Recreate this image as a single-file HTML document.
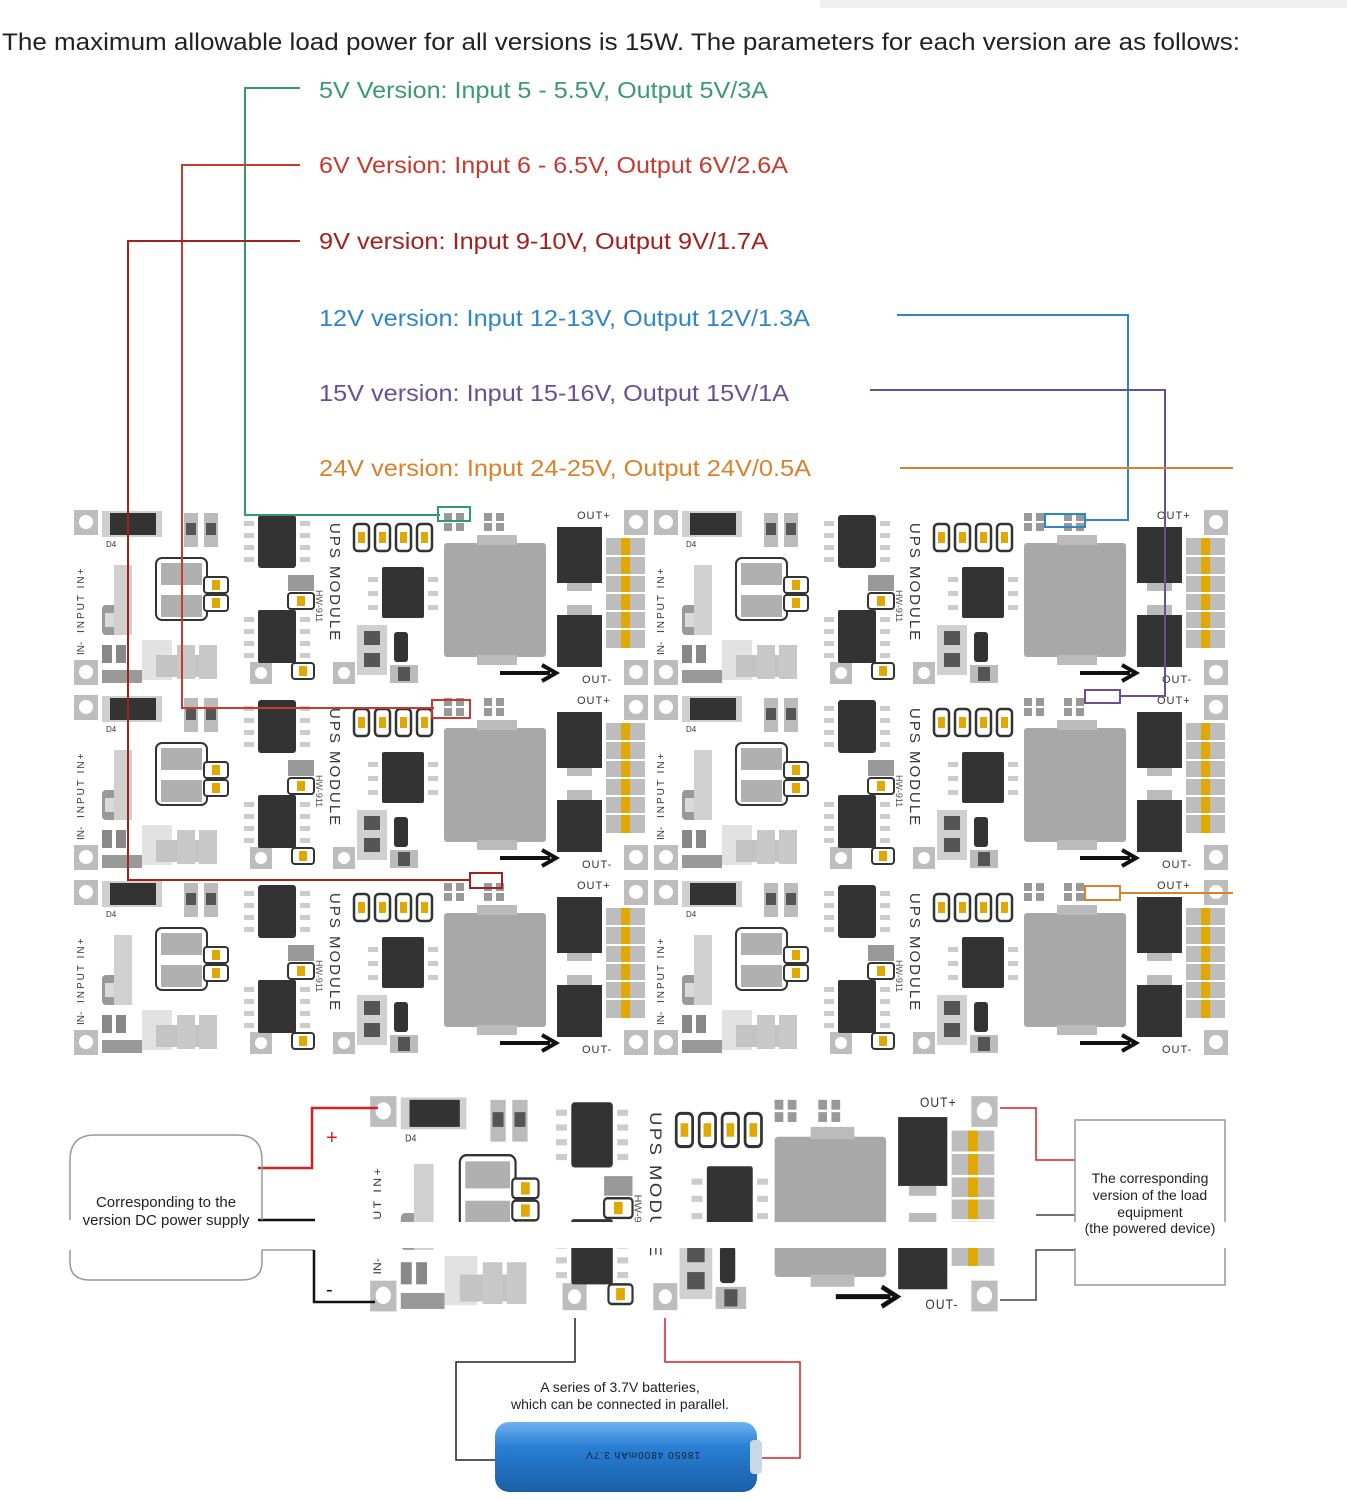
<!DOCTYPE html>
<html><head><meta charset="utf-8"><style>
html,body{margin:0;padding:0;background:#fff;}
svg{display:block;font-family:"Liberation Sans",sans-serif;}
</style></head><body>
<svg width="1347" height="1500" viewBox="0 0 1347 1500" xmlns="http://www.w3.org/2000/svg">
<defs>
<linearGradient id="bat" x1="0" y1="0" x2="0" y2="1">
<stop offset="0" stop-color="#6fb3f0"/><stop offset="0.35" stop-color="#2a7fd4"/><stop offset="1" stop-color="#1a5fa8"/>
</linearGradient>
<g id="board">
<rect x="0" y="0" width="578" height="183" fill="#fff"/>
<!-- pads -->
<rect x="2" y="5" width="24" height="25" fill="#bdbdbd"/><circle cx="14" cy="17" r="7" fill="#fff"/>
<rect x="2" y="155" width="24" height="25" fill="#bdbdbd"/><circle cx="14" cy="167" r="7" fill="#fff"/>
<rect x="552" y="5" width="24" height="25" fill="#bdbdbd"/><circle cx="564" cy="17" r="7" fill="#fff"/>
<rect x="552" y="155" width="24" height="25" fill="#bdbdbd"/><circle cx="564" cy="167" r="7" fill="#fff"/>
<rect x="178" y="157" width="22" height="22" fill="#bdbdbd"/><circle cx="189" cy="168" r="6" fill="#fff"/>
<rect x="261" y="157" width="22" height="22" fill="#bdbdbd"/><circle cx="272" cy="168" r="6" fill="#fff"/>
<!-- D4 -->
<rect x="30" y="6" width="60" height="26" fill="#cfcfcf"/><rect x="38" y="8" width="46" height="22" fill="#333"/>
<text x="34" y="42" font-size="8" fill="#333">D4</text>
<!-- resistors -->
<rect x="112" y="8" width="14" height="34" fill="#bbb"/><rect x="114" y="18" width="10" height="12" fill="#555"/>
<rect x="132" y="8" width="14" height="34" fill="#bbb"/><rect x="134" y="18" width="10" height="12" fill="#555"/>
<!-- input text -->
<text transform="translate(12,128) rotate(-90)" font-size="10" fill="#333" letter-spacing="2">INPUT  IN+</text>
<text transform="translate(12,150) rotate(-90)" font-size="10" fill="#333">IN-</text>
<!-- C1 -->
<rect x="30" y="100" width="16" height="30" rx="4" fill="#999"/><rect x="33" y="108" width="10" height="14" fill="#d9d9d9"/>
<rect x="42" y="60" width="18" height="70" fill="#d0d0d0"/>
<!-- L30 -->
<rect x="84" y="53" width="51" height="62" rx="6" fill="#fff" stroke="#333" stroke-width="2"/>
<rect x="89" y="58" width="41" height="22" fill="#b0b0b0"/><rect x="89" y="90" width="41" height="22" fill="#b0b0b0"/>
<!-- U4 / R4 R5 -->
<rect x="30" y="140" width="10" height="18" fill="#888"/><rect x="44" y="140" width="10" height="18" fill="#888"/>
<rect x="70" y="135" width="30" height="40" fill="#e2e2e2"/>
<rect x="84" y="150" width="28" height="22" fill="#c4c4c4"/><rect x="118" y="150" width="24" height="22" fill="#c4c4c4"/>
<rect x="30" y="165" width="40" height="13" fill="#999"/>
<!-- C10 C11 -->
<rect x="132" y="72" width="24" height="16" rx="3" fill="#fff" stroke="#333" stroke-width="2"/><rect x="140" y="75" width="8" height="10" fill="#e0a800"/>
<rect x="132" y="90" width="24" height="16" rx="3" fill="#fff" stroke="#333" stroke-width="2"/><rect x="140" y="93" width="8" height="10" fill="#e0a800"/>
<!-- U1 -->
<rect x="172" y="16" width="10" height="5" fill="#ccc"/><rect x="172" y="28" width="10" height="5" fill="#ccc"/><rect x="172" y="40" width="10" height="5" fill="#ccc"/><rect x="172" y="52" width="10" height="5" fill="#ccc"/>
<rect x="228" y="16" width="10" height="5" fill="#ccc"/><rect x="228" y="28" width="10" height="5" fill="#ccc"/><rect x="228" y="40" width="10" height="5" fill="#ccc"/><rect x="228" y="52" width="10" height="5" fill="#ccc"/>
<rect x="186" y="10" width="38" height="53" rx="3" fill="#333"/>
<!-- C8 / R8 -->
<rect x="216" y="70" width="26" height="16" fill="#999"/>
<rect x="216" y="88" width="26" height="16" rx="3" fill="#fff" stroke="#333" stroke-width="2"/><rect x="225" y="91" width="8" height="10" fill="#e0a800"/>
<!-- U3 -->
<rect x="186" y="105" width="38" height="53" rx="2" fill="#333"/>
<rect x="172" y="112" width="10" height="5" fill="#ccc"/><rect x="172" y="124" width="10" height="5" fill="#ccc"/><rect x="172" y="136" width="10" height="5" fill="#ccc"/><rect x="172" y="148" width="10" height="5" fill="#ccc"/>
<rect x="228" y="112" width="10" height="5" fill="#ccc"/><rect x="228" y="124" width="10" height="5" fill="#ccc"/><rect x="228" y="136" width="10" height="5" fill="#ccc"/><rect x="228" y="148" width="10" height="5" fill="#ccc"/>
<!-- C2 -->
<rect x="220" y="158" width="22" height="16" rx="3" fill="#fff" stroke="#333" stroke-width="2"/><rect x="227" y="161" width="8" height="10" fill="#e0a800"/>
<!-- UPS MODULE -->
<text transform="translate(258,18) rotate(90)" font-size="15" fill="#333" letter-spacing="2">UPS  MODULE</text>
<text transform="translate(244,85) rotate(90)" font-size="9" fill="#555">HW-911</text>
<!-- C12-14 -->
<rect x="282" y="19" width="15" height="27" rx="4" fill="#fff" stroke="#333" stroke-width="2.5"/><rect x="286" y="27" width="7" height="11" fill="#e0a800"/>
<rect x="303" y="19" width="15" height="27" rx="4" fill="#fff" stroke="#333" stroke-width="2.5"/><rect x="307" y="27" width="7" height="11" fill="#e0a800"/>
<rect x="324" y="19" width="15" height="27" rx="4" fill="#fff" stroke="#333" stroke-width="2.5"/><rect x="328" y="27" width="7" height="11" fill="#e0a800"/>
<rect x="345" y="19" width="15" height="27" rx="4" fill="#fff" stroke="#333" stroke-width="2.5"/><rect x="349" y="27" width="7" height="11" fill="#e0a800"/>
<rect x="365" y="5" width="95" height="20" fill="#fff"/>
<rect x="372" y="8" width="8" height="8" fill="#999"/><rect x="384" y="8" width="8" height="8" fill="#999"/><rect x="412" y="8" width="8" height="8" fill="#999"/><rect x="424" y="8" width="8" height="8" fill="#999"/>
<rect x="372" y="18" width="8" height="8" fill="#999"/><rect x="384" y="18" width="8" height="8" fill="#999"/><rect x="412" y="18" width="8" height="8" fill="#999"/><rect x="424" y="18" width="8" height="8" fill="#999"/>
<!-- U2 -->
<rect x="296" y="72" width="10" height="5" fill="#ccc"/><rect x="296" y="86" width="10" height="5" fill="#ccc"/><rect x="296" y="100" width="10" height="5" fill="#ccc"/>
<rect x="356" y="72" width="10" height="5" fill="#ccc"/><rect x="356" y="86" width="10" height="5" fill="#ccc"/><rect x="356" y="100" width="10" height="5" fill="#ccc"/>
<rect x="310" y="62" width="42" height="51" rx="2" fill="#333"/>
<!-- R1 R2 -->
<rect x="285" y="120" width="30" height="50" fill="#d0d0d0"/><rect x="292" y="126" width="16" height="14" fill="#555"/><rect x="292" y="148" width="16" height="14" fill="#555"/>
<rect x="322" y="127" width="14" height="30" rx="3" fill="#333"/>
<rect x="318" y="160" width="28" height="18" fill="#bbb"/><rect x="326" y="162" width="12" height="14" fill="#555"/>
<!-- big inductor -->
<rect x="372" y="38" width="102" height="114" rx="3" fill="#a8a8a8"/>
<rect x="405" y="30" width="40" height="10" fill="#bbb"/><rect x="405" y="150" width="40" height="10" fill="#bbb"/>
<!-- D3 D2 -->
<rect x="485" y="22" width="45" height="56" fill="#333"/><rect x="495" y="78" width="25" height="8" fill="#bbb"/>
<rect x="485" y="110" width="45" height="52" fill="#333"/><rect x="495" y="100" width="25" height="10" fill="#bbb"/>
<!-- yellow column -->
<rect x="534" y="33" width="39" height="110" fill="#bdbdbd"/>
<rect x="549" y="33" width="9" height="110" fill="#e0a800"/>
<g stroke="#fff" stroke-width="2"><line x1="534" y1="51" x2="573" y2="51"/><line x1="534" y1="70" x2="573" y2="70"/><line x1="534" y1="88" x2="573" y2="88"/><line x1="534" y1="106" x2="573" y2="106"/><line x1="534" y1="124" x2="573" y2="124"/></g>
<!-- OUT text -->
<text x="505" y="14" font-size="11" fill="#333" letter-spacing="1">OUT+</text>
<text x="510" y="178" font-size="11" fill="#333" letter-spacing="1">OUT-</text>
<!-- arrow -->
<line x1="428" y1="168" x2="478" y2="168" stroke="#111" stroke-width="4"/>
<path d="M470 160 L484 168 L470 176" fill="none" stroke="#111" stroke-width="4"/>
<!-- C16 C17 -->
<rect x="105" y="140" width="18" height="34" fill="#c8c8c8"/><rect x="127" y="140" width="18" height="34" fill="#c8c8c8"/>
</g>
</defs>

<rect x="820" y="0" width="527" height="8" fill="#efefef"/>

<text x="2" y="50" font-size="24" fill="#222" textLength="1238" lengthAdjust="spacingAndGlyphs">The maximum allowable load power for all versions is 15W. The parameters for each version are as follows:</text>

<g font-size="23">
<text x="319" y="98" fill="#3a9a70" textLength="449" lengthAdjust="spacingAndGlyphs">5V Version: Input 5 - 5.5V, Output 5V/3A</text>
<text x="319" y="173" fill="#c63b30" textLength="469" lengthAdjust="spacingAndGlyphs">6V Version: Input 6 - 6.5V, Output 6V/2.6A</text>
<text x="319" y="249" fill="#a3201e" textLength="449" lengthAdjust="spacingAndGlyphs">9V version: Input 9-10V, Output 9V/1.7A</text>
<text x="319" y="326" fill="#2f86c4" textLength="491" lengthAdjust="spacingAndGlyphs">12V version: Input 12-13V, Output 12V/1.3A</text>
<text x="319" y="401" fill="#6b4f94" textLength="470" lengthAdjust="spacingAndGlyphs">15V version: Input 15-16V, Output 15V/1A</text>
<text x="319" y="476" fill="#d9822b" textLength="492" lengthAdjust="spacingAndGlyphs">24V version: Input 24-25V, Output 24V/0.5A</text>
</g>

<!-- boards -->
<use href="#board" x="72" y="505"/>
<use href="#board" x="652" y="505"/>
<use href="#board" x="72" y="690"/>
<use href="#board" x="652" y="690"/>
<use href="#board" x="72" y="875"/>
<use href="#board" x="652" y="875"/>
<use href="#board" transform="translate(368,1090) scale(1.093,1.23)"/>
<rect x="60" y="1222" width="1180" height="26" fill="#fff"/>

<!-- connectors -->
<g fill="none" stroke-width="2">
<polyline points="300,88 245,88 245,515 440,515" stroke="#2f9a6a"/>
<rect x="438" y="507" width="32" height="14" stroke="#2f9a6a"/>
<polyline points="300,165 182,165 182,708 434,708" stroke="#c63b30"/>
<rect x="432" y="700" width="38" height="18" stroke="#c63b30"/>
<polyline points="300,241 128,241 128,880 470,880" stroke="#a3201e"/>
<rect x="470" y="873" width="32" height="15" stroke="#a3201e"/>
<polyline points="897,315 1128,315 1128,520 1085,520" stroke="#2f86c4"/>
<rect x="1045" y="514" width="40" height="13" stroke="#2f86c4"/>
<polyline points="870,390 1165,390 1165,696 1120,696" stroke="#6b4f94"/>
<rect x="1085" y="690" width="35" height="13" stroke="#6b4f94"/>
<line x1="900" y1="468" x2="1233" y2="468" stroke="#d9822b"/>
<line x1="1120" y1="893" x2="1233" y2="893" stroke="#d9822b"/>
<rect x="1085" y="886" width="35" height="14" stroke="#d9822b"/>
</g>

<!-- bottom wiring -->
<g fill="none" stroke-width="2.5">
<polyline points="258,1168 312,1168 312,1108 378,1108" stroke="#d42020"/>
<line x1="258" y1="1220" x2="315" y2="1220" stroke="#111"/>
<line x1="262" y1="1250" x2="314" y2="1250" stroke="#999" stroke-width="1.5"/>
<polyline points="314,1250 314,1302 375,1302" stroke="#111"/>
<polyline points="1000,1108 1036,1108 1036,1160 1075,1160" stroke="#d42020" stroke-width="1.5"/>
<polyline points="1036,1215 1075,1215" stroke="#444" stroke-width="1.5"/>
<polyline points="1000,1300 1036,1300 1036,1250 1075,1250" stroke="#444" stroke-width="1.5"/>
<polyline points="575,1318 575,1362 456,1362 456,1460 495,1460" stroke="#222" stroke-width="1.5"/>
<polyline points="665,1318 665,1362 800,1362 800,1458 760,1458" stroke="#d42020" stroke-width="1.5"/>
</g>
<text x="326" y="1144" font-size="20" fill="#d42020">+</text>
<text x="326" y="1296" font-size="20" fill="#111">-</text>

<!-- left box -->
<path d="M70 1220 L70 1160 Q70 1135 95 1135 L237 1135 Q262 1135 262 1160 L262 1220" fill="none" stroke="#999" stroke-width="1.5"/>
<path d="M70 1250 L70 1262 Q70 1280 90 1280 L242 1280 Q262 1280 262 1262 L262 1250" fill="none" stroke="#999" stroke-width="1.5"/>
<text x="166" y="1207" font-size="15" fill="#222" text-anchor="middle">Corresponding to the</text>
<text x="166" y="1225" font-size="15" fill="#222" text-anchor="middle">version DC power supply</text>

<!-- right box -->
<path d="M1075 1222 L1075 1120 L1225 1120 L1225 1222 M1075 1248 L1075 1285 L1225 1285 L1225 1248" fill="none" stroke="#999" stroke-width="1.5"/>
<g font-size="14" fill="#222" text-anchor="middle">
<text x="1150" y="1183">The corresponding</text>
<text x="1150" y="1200">version of the load</text>
<text x="1150" y="1217">equipment</text>
<text x="1150" y="1233">(the powered device)</text>
</g>

<!-- battery -->
<text x="620" y="1392" font-size="14" fill="#222" text-anchor="middle">A series of 3.7V batteries,</text>
<text x="620" y="1409" font-size="14" fill="#222" text-anchor="middle">which can be connected in parallel.</text>
<rect x="495" y="1422" width="262" height="70" rx="14" fill="url(#bat)"/>
<rect x="750" y="1440" width="12" height="34" rx="4" fill="#c9d8e6"/>
<text transform="translate(700,1452) rotate(180)" font-size="10" fill="#123" letter-spacing="1">18650 4800mAh 3.7V</text>
</svg>
</body></html>
